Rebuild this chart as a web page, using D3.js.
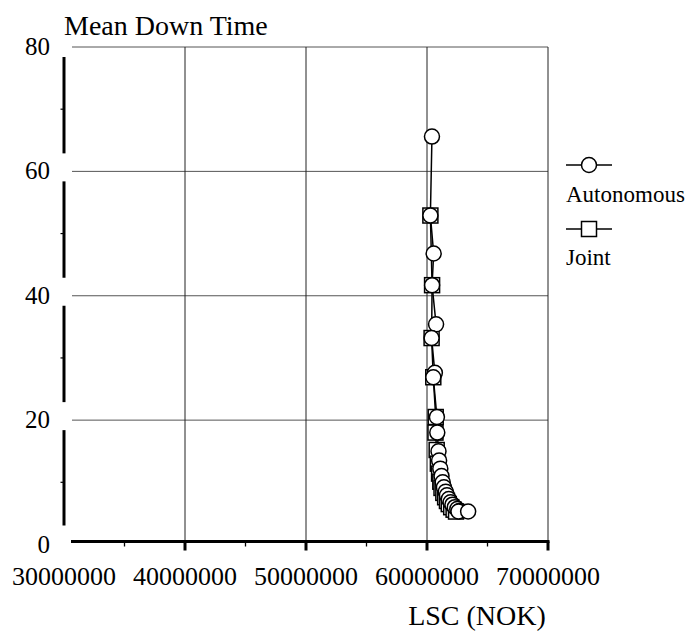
<!DOCTYPE html>
<html><head><meta charset="utf-8"><script src="https://cdn.jsdelivr.net/npm/d3@7"></script>
<style>
  body { margin: 0; }
  #chart text { font-family: "Times New Roman", "Liberation Serif", serif; }
</style>
</head>
<body>
<svg id="chart" width="693" height="631"></svg>
<script>
// Life-cycle cost (NOK) against mean down time for two maintenance strategies
const autonomousLSC = [60.41e6, 60.28e6, 60.55e6, 60.42e6, 60.75e6, 60.38e6, 60.65e6, 60.52e6,
  60.82e6, 60.85e6, 60.95e6, 61.0e6, 61.1e6, 61.2e6, 61.3e6, 61.4e6, 61.55e6, 61.65e6,
  61.8e6, 61.95e6, 62.1e6, 62.3e6, 62.5e6, 62.7e6, 62.6e6, 63.4e6];
const autonomousMDT = [65.6, 52.9, 46.8, 41.7, 35.4, 33.2, 27.6, 26.9,
  20.5, 18.0, 15.0, 13.5, 12.2, 11.0, 10.0, 9.2, 8.5, 7.9,
  7.3, 6.8, 6.4, 6.0, 5.7, 5.4, 5.3, 5.3];

const jointLSC = [60.28e6, 60.42e6, 60.38e6, 60.52e6, 60.72e6, 60.7e6, 60.8e6, 60.9e6,
  61.0e6, 61.1e6, 61.2e6, 61.35e6, 61.5e6, 61.65e6, 61.8e6, 62.0e6, 62.2e6, 62.4e6];
const jointMDT = [52.9, 41.7, 33.2, 26.9, 20.5, 18.0, 15.2, 13.0,
  11.4, 10.1, 9.1, 8.3, 7.6, 7.0, 6.5, 6.0, 5.6, 5.3];

const xTicks = [30e6, 40e6, 50e6, 60e6, 70e6];
const xMinorTicks = [35e6, 45e6, 55e6, 65e6];
const yTicks = [0, 20, 40, 60, 80];
const yMinorTicks = [10, 30, 50, 70];
const seriesNames = ["Autonomous", "Joint"];

const svg = d3.select("#chart");
const x = d3.scaleLinear().domain([30e6, 70e6]).range([64, 548]);
const y = d3.scaleLinear().domain([0, 80]).range([544.5, 47]);
const axisY = 541.5;

function label(sel, size) {
  return sel.style("font-family", `"Times New Roman"`).style("font-size", size + "px");
}

// grid
svg.append("g").selectAll("line").data(yTicks.filter(v => v > 0)).join("line")
  .attr("x1", 72).attr("x2", x(70e6))
  .attr("y1", d => y(d)).attr("y2", d => y(d))
  .attr("stroke", "#555").attr("stroke-width", 1);
svg.append("g").selectAll("line").data(xTicks.filter(v => v > 30e6)).join("line")
  .attr("x1", d => x(d)).attr("x2", d => x(d))
  .attr("y1", y(80)).attr("y2", axisY)
  .attr("stroke", "#222").attr("stroke-width", 1);

// broken y axis: one thick segment per interval between gridlines
const segs = d3.pairs(yTicks);
svg.append("g").selectAll("line").data(segs).join("line")
  .attr("x1", x(30e6)).attr("x2", x(30e6))
  .attr("y1", d => y(d[1]) + 10)
  .attr("y2", d => y(d[0]) - (d[0] === 0 ? 19 : 18))
  .attr("stroke", "#000").attr("stroke-width", 3);
svg.append("g").selectAll("line").data(yMinorTicks).join("line")
  .attr("x1", x(30e6) - 3.5).attr("x2", x(30e6))
  .attr("y1", d => y(d)).attr("y2", d => y(d))
  .attr("stroke", "#000").attr("stroke-width", 1.2);

// x axis
svg.append("line").attr("x1", 71).attr("x2", x(70e6) + 1.5)
  .attr("y1", axisY).attr("y2", axisY).attr("stroke", "#000").attr("stroke-width", 3);
svg.append("g").selectAll("line").data(xTicks.filter(v => v > 30e6)).join("line")
  .attr("x1", d => x(d)).attr("x2", d => x(d))
  .attr("y1", axisY).attr("y2", axisY + 9)
  .attr("stroke", "#000").attr("stroke-width", 3);
svg.append("g").selectAll("line").data(xMinorTicks).join("line")
  .attr("x1", d => x(d)).attr("x2", d => x(d))
  .attr("y1", axisY).attr("y2", axisY + 5)
  .attr("stroke", "#000").attr("stroke-width", 1.3);

// tick labels
label(svg.append("g").selectAll("text").data(yTicks).join("text"), 25)
  .attr("x", 50).attr("y", d => y(d) + 8)
  .attr("text-anchor", "end")
  .text(d => d);
label(svg.append("g").selectAll("text").data(xTicks).join("text"), 26)
  .attr("x", d => x(d)).attr("y", 585)
  .attr("text-anchor", "middle")
  .text(d => d3.format("d")(d));

// titles
label(svg.append("text"), 28).attr("x", 64).attr("y", 35).text("Mean Down Time");
label(svg.append("text"), 28).attr("x", 477).attr("y", 625).attr("text-anchor", "middle")
  .text("LSC (NOK)");

// series
const line = d3.line().x(d => x(d[0])).y(d => y(d[1]));
const joint = d3.zip(jointLSC, jointMDT);
const auto = d3.zip(autonomousLSC, autonomousMDT);
const plot = svg.append("g");
plot.append("path").datum(joint).attr("d", line)
  .attr("fill", "none").attr("stroke", "#000").attr("stroke-width", 1.5);
plot.append("path").datum(auto).attr("d", line)
  .attr("fill", "none").attr("stroke", "#000").attr("stroke-width", 1.5);
const sq = 15;
plot.append("g").selectAll("rect").data(joint).join("rect")
  .attr("x", d => x(d[0]) - sq / 2).attr("y", d => y(d[1]) - sq / 2)
  .attr("width", sq).attr("height", sq)
  .attr("fill", "#fff").attr("stroke", "#000").attr("stroke-width", 1.5);
plot.append("g").selectAll("circle").data(auto).join("circle")
  .attr("cx", d => x(d[0])).attr("cy", d => y(d[1])).attr("r", 7.5)
  .attr("fill", "#fff").attr("stroke", "#000").attr("stroke-width", 1.5);

// legend
const lg = svg.append("g");
const lx0 = 566, lx1 = 612, lxc = 589;
lg.append("line").attr("x1", lx0).attr("x2", lx1).attr("y1", 165).attr("y2", 165)
  .attr("stroke", "#000").attr("stroke-width", 1.5);
lg.append("circle").attr("cx", lxc).attr("cy", 165).attr("r", 7.5)
  .attr("fill", "#fff").attr("stroke", "#000").attr("stroke-width", 1.5);
label(lg.append("text"), 23).attr("x", lx0).attr("y", 202).text(seriesNames[0]);
lg.append("line").attr("x1", lx0).attr("x2", lx1).attr("y1", 229).attr("y2", 229)
  .attr("stroke", "#000").attr("stroke-width", 1.5);
lg.append("rect").attr("x", lxc - 7.5).attr("y", 229 - 7.5).attr("width", 15).attr("height", 15)
  .attr("fill", "#fff").attr("stroke", "#000").attr("stroke-width", 1.5);
label(lg.append("text"), 23).attr("x", lx0).attr("y", 265).text(seriesNames[1]);
</script>
</body>
</html>
